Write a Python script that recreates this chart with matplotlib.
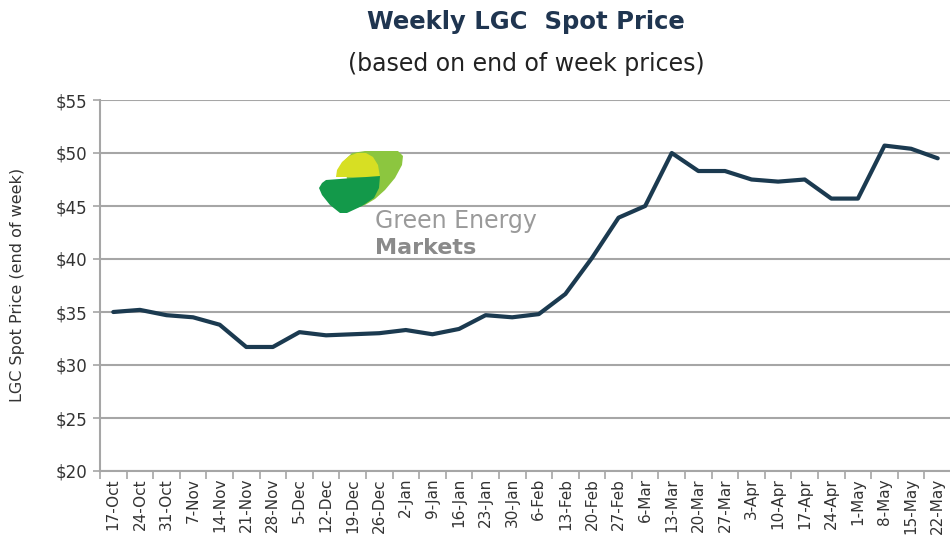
import matplotlib
matplotlib.use("Agg")
import matplotlib.pyplot as plt
from matplotlib.patches import Polygon
from matplotlib.ticker import FixedLocator

weeks = ["17-Oct", "24-Oct", "31-Oct", "7-Nov", "14-Nov", "21-Nov", "28-Nov",
         "5-Dec", "12-Dec", "19-Dec", "26-Dec", "2-Jan", "9-Jan", "16-Jan",
         "23-Jan", "30-Jan", "6-Feb", "13-Feb", "20-Feb", "27-Feb", "6-Mar",
         "13-Mar", "20-Mar", "27-Mar", "3-Apr", "10-Apr", "17-Apr", "24-Apr",
         "1-May", "8-May", "15-May", "22-May"]
prices = [35.0, 35.2, 34.7, 34.5, 33.8, 31.7, 31.7, 33.1, 32.8, 32.9, 33.0,
          33.3, 32.9, 33.4, 34.7, 34.5, 34.8, 36.7, 40.1, 43.9, 45.0, 50.0,
          48.3, 48.3, 47.5, 47.3, 47.5, 45.7, 45.7, 50.7, 50.4, 49.5]
y_ticks = [20, 25, 30, 35, 40, 45, 50, 55]

W, H = 950, 547
LINE = "#1b3a50"
GRID = "#a6a6a6"
TEXT = "#333333"

plt.rcParams["font.family"] = ["DejaVu Sans"]

fig = plt.figure(figsize=(W / 100, H / 100), dpi=100)
fig.patch.set_facecolor("white")


def fx(px):
    return px / W


def fy(py):
    return 1 - py / H


ax = fig.add_axes([fx(100), fy(471), fx(951) - fx(100), fy(100) - fy(471)])
x = list(range(len(weeks)))
ax.plot(x, prices, color=LINE, lw=3.0, solid_joinstyle="round",
        solid_capstyle="round", zorder=3)

ax.set_xlim(-0.5, len(weeks) - 0.5)
ax.set_ylim(20, 55)
ax.set_yticks(y_ticks)
ax.set_yticklabels([f"${v}" for v in y_ticks], fontsize=12, color=TEXT)
ax.set_xticks(x)
ax.set_xticklabels(weeks, rotation=90, fontsize=11, color=TEXT)
ax.xaxis.set_minor_locator(FixedLocator([i - 0.5 for i in range(len(weeks) + 1)]))
ax.tick_params(axis="x", which="major", length=0, pad=5)
ax.tick_params(axis="x", which="minor", length=6, width=1.2, color=GRID)
ax.tick_params(axis="y", length=5, width=1.2, color=GRID, pad=4)
ax.grid(axis="y", color=GRID, lw=1.5)
ax.set_axisbelow(True)
for side in ["top", "right"]:
    ax.spines[side].set_visible(False)
for side in ["left", "bottom"]:
    ax.spines[side].set_color(GRID)
    ax.spines[side].set_linewidth(1.5)

fig.text(fx(18), fy(285), "LGC Spot Price (end of week)", rotation=90,
         ha="center", va="center", fontsize=11.5, color=TEXT)

fig.text(fx(526), fy(22), "Weekly LGC  Spot Price", ha="center", va="center",
         fontsize=17.5, fontweight="bold", color="#1f3550")
fig.text(fx(526), fy(64), "(based on end of week prices)", ha="center",
         va="center", fontsize=17, color="#222222")

# logo
lax = fig.add_axes([0, 0, 1, 1], facecolor="none")
lax.set_xlim(0, W)
lax.set_ylim(H, 0)
lax.axis("off")
lax.add_patch(Polygon([(345, 160), (352, 153), (365, 151), (398, 151),
                       (403, 156), (402, 165), (395, 178), (385, 190),
                       (375, 199), (365, 205), (350, 210)],
                      closed=True, color="#8cc63f", lw=0))
lax.add_patch(Polygon([(336, 177), (337, 170), (342, 162), (349, 156),
                       (357, 153), (366, 153), (373, 157), (378, 165),
                       (380, 177)], closed=True, color="#d7df23", lw=0))
lax.add_patch(Polygon([(326, 180), (380, 176), (379, 188), (374, 198),
                       (362, 206), (347, 213), (340, 213), (330, 205),
                       (322, 195), (319, 188), (322, 183)],
                      closed=True, color="#13994a", lw=0))
fig.text(fx(375), fy(228), "Green Energy", ha="left", va="baseline",
         fontsize=17, color="#9a9a9a")
fig.text(fx(375), fy(254), "Markets", ha="left", va="baseline",
         fontsize=16, fontweight="bold", color="#8a8a8a")

fig.savefig("out.png", dpi=100)
